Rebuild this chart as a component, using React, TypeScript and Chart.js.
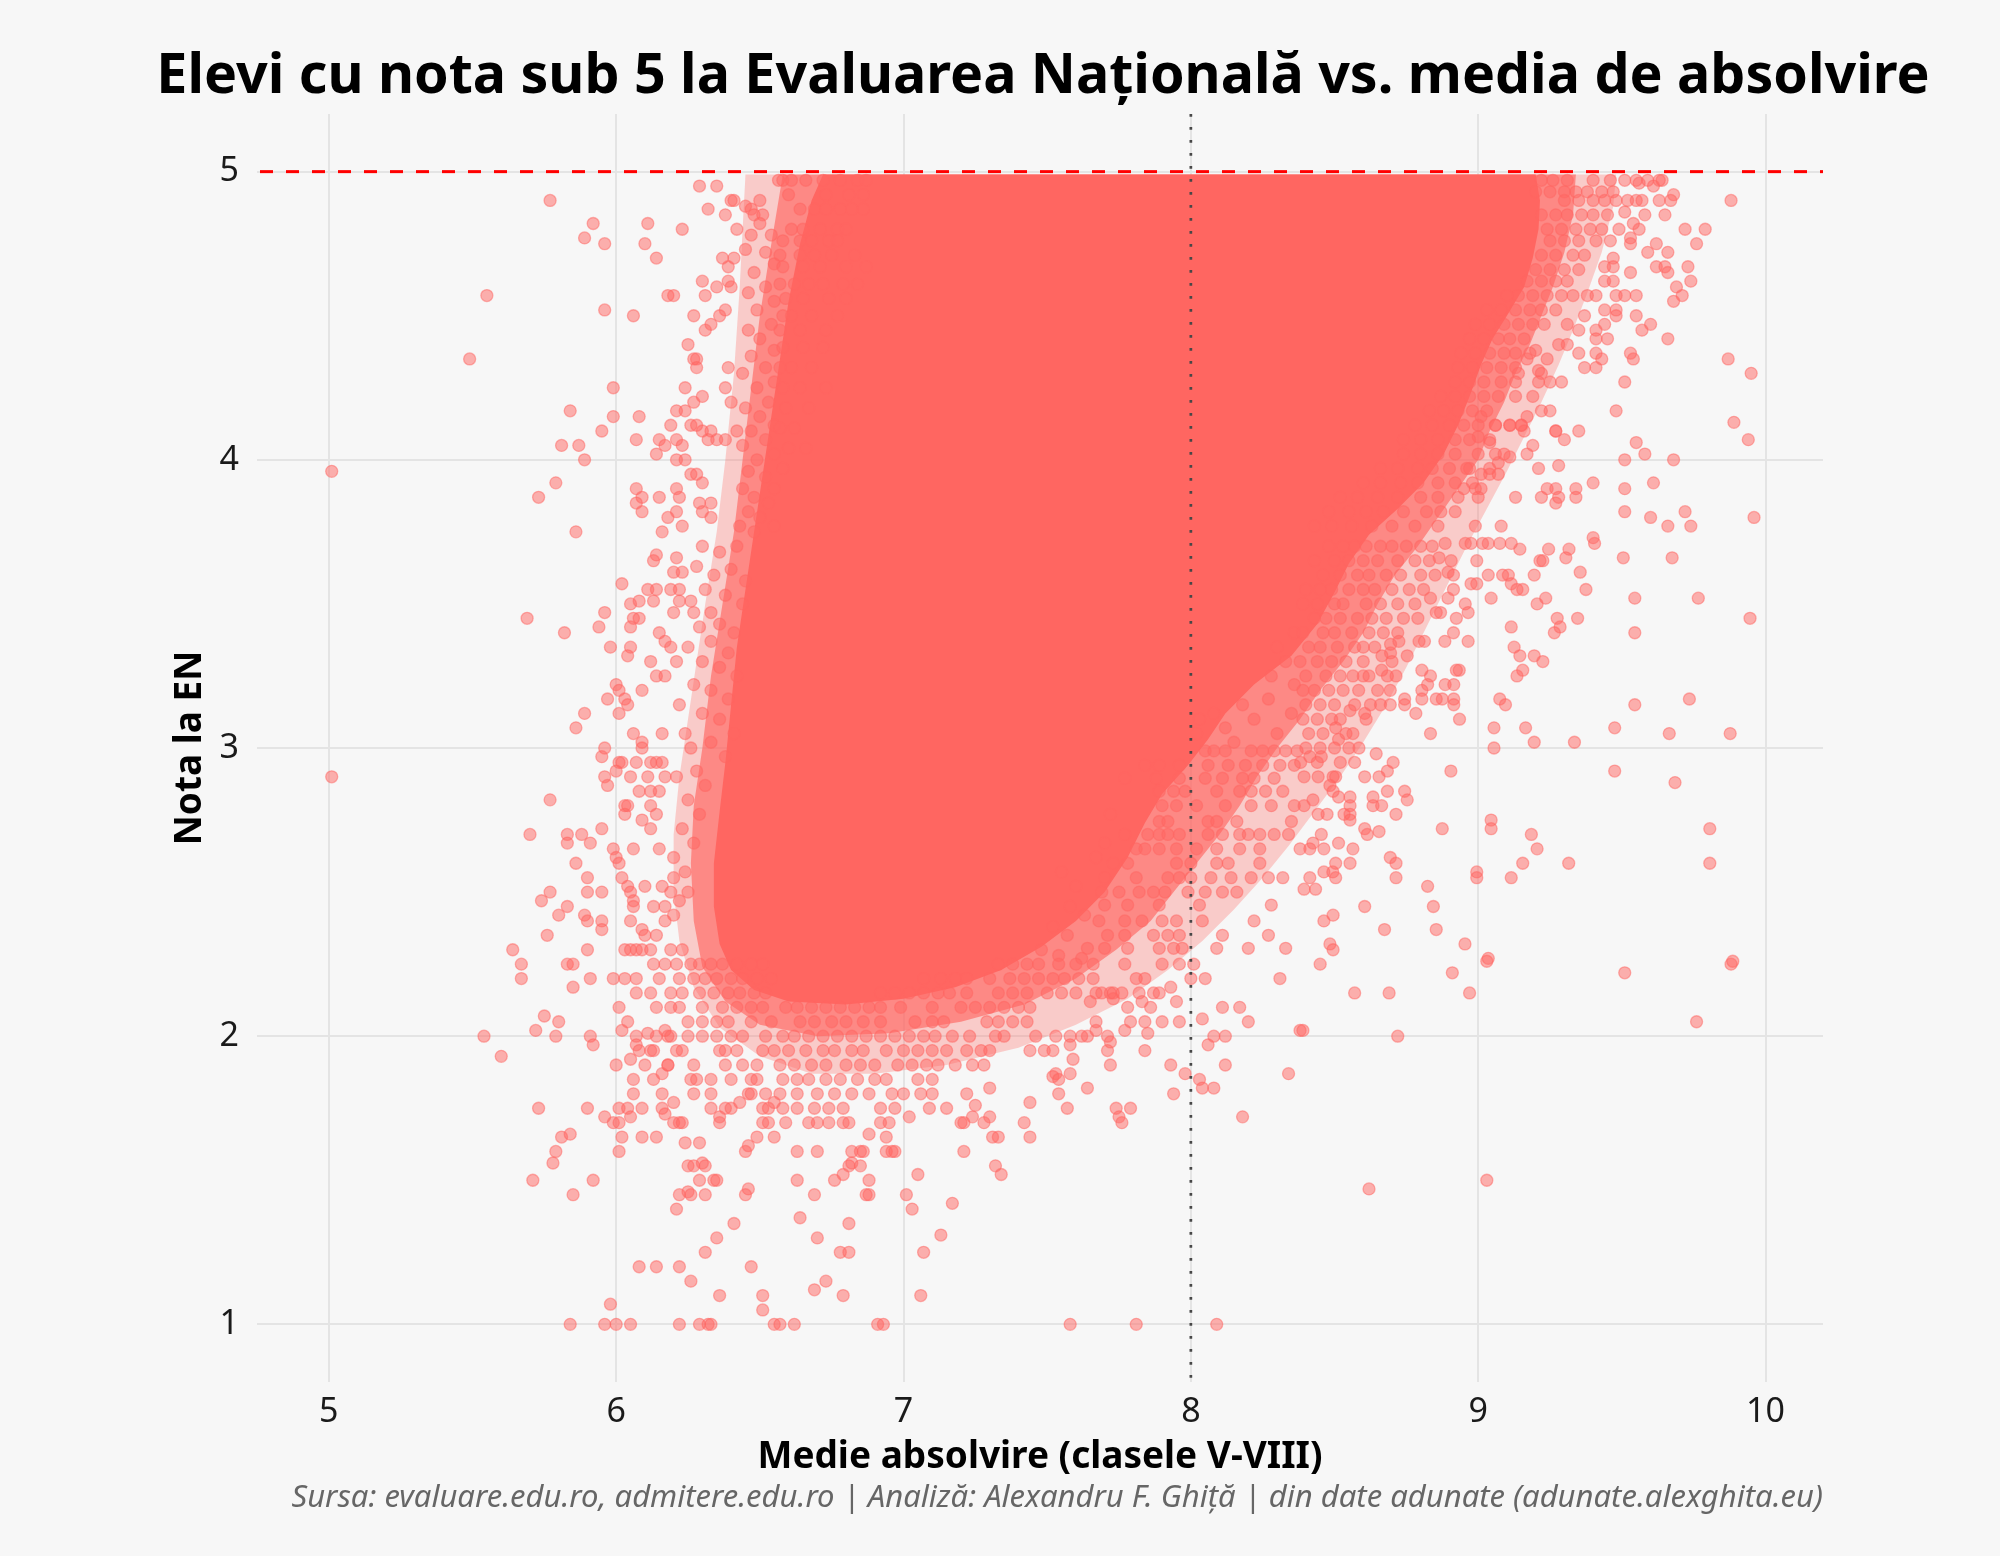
import React, { useEffect, useRef } from "react";
import { Chart, registerables } from "chart.js";

Chart.register(...registerables);

const FONT = '"Noto Sans", "Open Sans", sans-serif';

const TITLE = "Elevi cu nota sub 5 la Evaluarea Națională vs. media de absolvire";
const X_TITLE = "Medie absolvire (clasele V-VIII)";
const Y_TITLE = "Nota la EN";
const CAPTION =
  "Sursa: evaluare.edu.ro, admitere.edu.ro | Analiză: Alexandru F. Ghiță | din date adunate (adunate.alexghita.eu)";

const xTicks = [5, 6, 7, 8, 9, 10];
const yTicks = [1, 2, 3, 4, 5];
const xRange = [4.75, 10.2];
const yRange = [0.8, 5.2];
const thresholdGrade = 5; // dashed red line
const referenceAverage = 8; // dotted vertical line

// Envelope of the region where the points overlap completely (solid core)
const coreOutline: [number, number][] = [
  [6.72, 4.99], [7.5, 4.99], [8.3, 4.99], [9.2, 4.99], [9.215, 4.9], [9.21, 4.8], [9.19, 4.7],
  [9.16, 4.6], [9.1, 4.5], [9.05, 4.42], [9.01, 4.33], [8.97, 4.22], [8.93, 4.12], [8.88, 4.02],
  [8.81, 3.92], [8.72, 3.83], [8.62, 3.74], [8.55, 3.64], [8.5, 3.54], [8.44, 3.43], [8.35, 3.32],
  [8.22, 3.22], [8.12, 3.12], [8.06, 3.03], [7.99, 2.94], [7.9, 2.84], [7.84, 2.74], [7.78, 2.62],
  [7.7, 2.5], [7.6, 2.4], [7.48, 2.31], [7.34, 2.23], [7.18, 2.17], [7.0, 2.13], [6.8, 2.11],
  [6.6, 2.12], [6.48, 2.16], [6.4, 2.23], [6.36, 2.32], [6.34, 2.45], [6.34, 2.6], [6.36, 2.78],
  [6.38, 2.95], [6.4, 3.15], [6.42, 3.35], [6.45, 3.55], [6.48, 3.75], [6.51, 3.95], [6.54, 4.15],
  [6.57, 4.35], [6.6, 4.55], [6.64, 4.75], [6.68, 4.9], [6.72, 4.99],
];

// Envelope of the band where points overlap most of the time
const innerBandOutline: [number, number][] = [
  [6.58, 4.99], [9.34, 4.99], [9.33, 4.85], [9.3, 4.72], [9.26, 4.6], [9.22, 4.5], [9.18, 4.4],
  [9.13, 4.3], [9.09, 4.2], [9.04, 4.1], [9.0, 4.0], [8.93, 3.9], [8.86, 3.8], [8.79, 3.7],
  [8.71, 3.6], [8.65, 3.5], [8.6, 3.4], [8.53, 3.3], [8.45, 3.2], [8.38, 3.1], [8.3, 3.0],
  [8.23, 2.9], [8.17, 2.8], [8.1, 2.7], [8.02, 2.6], [7.94, 2.5], [7.86, 2.4], [7.74, 2.3],
  [7.6, 2.2], [7.42, 2.11], [7.2, 2.05], [6.95, 2.01], [6.7, 2.0], [6.5, 2.04], [6.38, 2.12],
  [6.3, 2.24], [6.27, 2.4], [6.26, 2.6], [6.27, 2.8], [6.3, 3.0], [6.33, 3.25], [6.37, 3.5],
  [6.41, 3.75], [6.44, 4.0], [6.47, 4.25], [6.5, 4.5], [6.54, 4.75], [6.58, 4.99],
];

// Envelope of the band where points still touch each other
const outerBandOutline: [number, number][] = [
  [6.45, 4.99], [9.48, 4.99], [9.47, 4.88], [9.43, 4.72], [9.38, 4.58], [9.33, 4.45], [9.28, 4.33],
  [9.22, 4.2], [9.16, 4.08], [9.1, 3.96], [9.03, 3.83], [8.96, 3.7], [8.89, 3.56], [8.82, 3.42],
  [8.75, 3.28], [8.68, 3.15], [8.6, 3.02], [8.52, 2.9], [8.43, 2.78], [8.34, 2.66], [8.25, 2.55],
  [8.15, 2.44], [8.04, 2.33], [7.92, 2.23], [7.78, 2.13], [7.6, 2.04], [7.4, 1.96], [7.15, 1.9],
  [6.9, 1.87], [6.68, 1.87], [6.5, 1.93], [6.36, 2.03], [6.27, 2.17], [6.22, 2.33], [6.2, 2.5],
  [6.2, 2.7], [6.22, 2.9], [6.25, 3.1], [6.28, 3.3], [6.31, 3.5], [6.35, 3.75], [6.38, 4.0],
  [6.41, 4.3], [6.43, 4.6], [6.44, 4.8], [6.45, 4.99],
];

// Individual students, upper-left side
const pointsUpperLeft: [number, number][] = [
  [5.77, 4.9], [5.92, 4.82], [5.89, 4.77], [5.96, 4.75], [6.11, 4.82], [6.1, 4.75], [6.14, 4.7],
  [6.23, 4.8], [6.29, 4.95], [6.35, 4.95], [6.4, 4.9], [6.41, 4.9], [6.32, 4.87], [6.38, 4.85],
  [6.42, 4.8], [6.47, 4.87], [6.5, 4.9], [6.48, 4.85], [6.51, 4.85], [6.565, 4.97],
  [5.55, 4.57], [5.49, 4.35], [5.96, 4.52], [6.06, 4.5], [6.18, 4.57], [6.2, 4.57], [6.3, 4.62],
  [6.31, 4.57], [6.35, 4.6], [6.39, 4.62], [6.4, 4.6], [6.37, 4.7], [6.41, 4.7], [6.39, 4.67],
  [6.27, 4.5], [6.33, 4.47], [6.31, 4.45], [6.36, 4.5], [6.38, 4.52], [6.25, 4.4], [6.27, 4.35],
  [6.28, 4.35], [6.28, 4.32], [5.99, 4.25], [5.84, 4.17], [5.99, 4.15], [6.08, 4.15], [5.95, 4.1],
  [5.81, 4.05], [5.87, 4.05], [5.89, 4.0], [6.07, 4.07], [6.19, 4.12], [6.15, 4.07], [6.17, 4.05],
  [6.14, 4.02], [6.23, 4.05], [6.21, 4.07], [6.21, 4.0], [6.24, 4.0], [6.24, 4.25], [6.27, 4.2],
  [6.3, 4.22], [6.21, 4.17], [6.24, 4.17], [6.38, 4.25], [6.39, 4.32], [6.4, 4.2], [6.26, 4.12],
  [6.28, 4.12], [6.3, 4.1], [6.33, 4.1], [6.32, 4.07], [6.35, 4.07], [6.38, 4.07], [6.42, 4.1],
  [5.01, 3.96], [5.79, 3.92], [5.73, 3.87], [6.07, 3.9], [6.09, 3.87], [6.07, 3.85], [6.09, 3.82],
  [6.15, 3.87], [5.86, 3.75], [6.21, 3.9], [6.22, 3.87], [6.21, 3.82], [6.18, 3.8], [6.23, 3.77],
  [6.16, 3.75], [6.26, 3.95], [6.28, 3.95], [6.3, 3.92], [6.29, 3.85], [6.33, 3.85], [6.3, 3.82],
  [6.33, 3.8],
  [6.45, 4.88], [6.5, 4.82], [6.54, 4.78], [6.47, 4.78], [6.52, 4.72], [6.45, 4.73], [6.55, 4.68],
  [6.48, 4.65], [6.52, 4.6], [6.46, 4.58], [6.55, 4.55], [6.49, 4.52], [6.54, 4.47], [6.46, 4.45],
  [6.5, 4.42], [6.55, 4.38], [6.47, 4.36], [6.52, 4.32], [6.44, 4.3], [6.55, 4.27], [6.49, 4.25],
  [6.53, 4.2], [6.45, 4.18], [6.5, 4.15], [6.55, 4.12], [6.47, 4.1], [6.52, 4.07], [6.44, 4.05],
  [6.55, 4.02], [6.49, 4.0], [6.46, 3.96], [6.52, 3.94], [6.55, 3.9], [6.44, 3.9], [6.48, 3.87],
  [6.53, 3.85], [6.46, 3.82], [6.5, 3.8], [6.55, 3.77], [6.43, 3.77], [6.48, 3.75],
];

// Individual students, middle-left side
const pointsMiddleLeft: [number, number][] = [
  [6.14, 3.67], [6.13, 3.65], [6.21, 3.66], [6.2, 3.61], [6.23, 3.61], [6.02, 3.57], [6.11, 3.55],
  [6.14, 3.55], [6.13, 3.51], [6.19, 3.55], [6.22, 3.55], [6.22, 3.51], [6.26, 3.51], [5.69, 3.45],
  [5.82, 3.4], [5.96, 3.47], [5.94, 3.42], [6.05, 3.5], [6.08, 3.51], [6.06, 3.45], [6.08, 3.45],
  [6.05, 3.42], [5.98, 3.35], [6.05, 3.35], [6.04, 3.32], [6.12, 3.3], [6.14, 3.25], [6.17, 3.25],
  [6.15, 3.4], [6.17, 3.37], [6.19, 3.35], [6.21, 3.3], [6.2, 3.47], [6.27, 3.47], [6.33, 3.47],
  [6.0, 3.22], [6.01, 3.2], [6.03, 3.17], [6.04, 3.15], [6.01, 3.12], [5.97, 3.17], [6.09, 3.2],
  [5.89, 3.12], [5.86, 3.07], [6.06, 3.05], [6.09, 3.02], [6.09, 3.0], [6.16, 3.05], [6.24, 3.05],
  [5.96, 3.0], [5.95, 2.97], [6.01, 2.95], [6.02, 2.95], [6.07, 2.95], [6.12, 2.95], [6.14, 2.95],
  [6.16, 2.95], [5.96, 2.9], [6.0, 2.92], [5.97, 2.87], [6.05, 2.9], [6.11, 2.9], [6.17, 2.9],
  [6.21, 2.9], [5.01, 2.9], [5.77, 2.82], [6.08, 2.85], [6.12, 2.85], [6.15, 2.85], [6.03, 2.8],
  [6.04, 2.8], [6.03, 2.77], [6.12, 2.8], [6.09, 2.75], [6.12, 2.72], [6.14, 2.77], [5.7, 2.7],
  [5.83, 2.7], [5.83, 2.67], [5.88, 2.7], [5.91, 2.67], [5.95, 2.72], [5.86, 2.6], [5.99, 2.65],
  [6.0, 2.62], [6.01, 2.6], [6.06, 2.65], [6.15, 2.65], [5.9, 2.55], [5.9, 2.5], [5.95, 2.5],
  [5.77, 2.5], [5.74, 2.47], [5.83, 2.45], [5.8, 2.42], [5.89, 2.42], [5.9, 2.4], [5.95, 2.4],
  [5.95, 2.37], [5.76, 2.35], [6.02, 2.55], [6.04, 2.52], [6.05, 2.5], [6.06, 2.47], [6.06, 2.45],
  [6.05, 2.4], [6.09, 2.37], [6.1, 2.35], [6.1, 2.52], [6.16, 2.52], [6.13, 2.45], [6.17, 2.45],
  [6.19, 2.5], [6.14, 2.35], [5.64, 2.3], [5.9, 2.3], [6.03, 2.3], [6.05, 2.3], [6.07, 2.3],
  [6.09, 2.3], [6.12, 2.3], [6.19, 2.3], [6.23, 2.3], [6.17, 2.4], [6.2, 2.42],
  [6.3, 3.7], [6.36, 3.68], [6.42, 3.7], [6.28, 3.63], [6.34, 3.6], [6.4, 3.62], [6.45, 3.58],
  [6.31, 3.55], [6.38, 3.53], [6.44, 3.5], [6.29, 3.42], [6.36, 3.43], [6.41, 3.4], [6.33, 3.37],
  [6.39, 3.33], [6.25, 3.35], [6.3, 3.3], [6.36, 3.28], [6.42, 3.25], [6.27, 3.22], [6.33, 3.2],
  [6.39, 3.17], [6.22, 3.15], [6.3, 3.12], [6.36, 3.1], [6.41, 3.05], [6.26, 3.0], [6.33, 3.02],
  [6.38, 2.97], [6.28, 2.92], [6.31, 2.87], [6.25, 2.82], [6.29, 2.77], [6.23, 2.72], [6.27, 2.67],
  [6.2, 2.62], [6.24, 2.57], [6.2, 2.55], [6.25, 2.5], [6.22, 2.47],
];

// Individual students, lower part of the chart
const pointsLower: [number, number][] = [
  [5.67, 2.25], [5.67, 2.2], [5.83, 2.25], [5.85, 2.25], [5.85, 2.17], [5.91, 2.2], [5.75, 2.07],
  [5.8, 2.05], [5.54, 2.0], [5.72, 2.02], [5.79, 2.0], [5.91, 2.0], [5.92, 1.97], [5.6, 1.93],
  [6.01, 2.1], [5.99, 2.2], [6.03, 2.2], [6.07, 2.2], [6.07, 2.15], [6.12, 2.15], [6.04, 2.05],
  [6.02, 2.02], [6.07, 2.0], [6.11, 2.01], [6.14, 2.0], [6.17, 2.02], [6.19, 2.0], [6.0, 1.9],
  [6.05, 1.92], [6.1, 1.9], [6.07, 1.97], [6.08, 1.95], [6.12, 1.95], [6.13, 1.95], [6.06, 1.85],
  [6.06, 1.8], [6.13, 1.85], [6.16, 1.87], [6.16, 1.8], [6.18, 1.9], [5.73, 1.75], [5.9, 1.75],
  [5.96, 1.72], [5.99, 1.7], [6.01, 1.7], [6.01, 1.75], [6.04, 1.75], [6.05, 1.72], [6.09, 1.75],
  [6.16, 1.75], [6.17, 1.73], [6.2, 1.77], [6.2, 1.7], [6.22, 1.7], [6.23, 1.7], [5.81, 1.65],
  [5.84, 1.66], [5.79, 1.6], [5.78, 1.56], [6.02, 1.65], [6.09, 1.65], [6.14, 1.65], [6.01, 1.6],
  [5.71, 1.5], [5.92, 1.5], [5.85, 1.45], [6.24, 1.63], [6.29, 1.63], [6.25, 1.55], [6.27, 1.55],
  [6.3, 1.56], [6.31, 1.55], [6.29, 1.5], [6.34, 1.5], [6.35, 1.5], [6.22, 1.45], [6.25, 1.46],
  [6.26, 1.45], [6.31, 1.45], [6.21, 1.4], [6.46, 1.47], [6.45, 1.45], [6.41, 1.35], [6.35, 1.3],
  [6.31, 1.25], [6.08, 1.2], [6.14, 1.2], [6.22, 1.2], [6.47, 1.2], [6.26, 1.15], [6.36, 1.1],
  [6.51, 1.1], [6.51, 1.05], [5.98, 1.07], [5.84, 1.0], [5.96, 1.0], [6.0, 1.0], [6.05, 1.0],
  [6.22, 1.0], [6.29, 1.0], [6.32, 1.0], [6.33, 1.0], [6.55, 1.0], [6.45, 1.6], [6.46, 1.62],
  [6.49, 1.65], [6.55, 1.65], [6.36, 1.7], [6.36, 1.72], [6.33, 1.75], [6.38, 1.75], [6.4, 1.75],
  [6.43, 1.77], [6.46, 1.8], [6.51, 1.75], [6.53, 1.75], [6.51, 1.7], [6.53, 1.7], [6.55, 1.77],
  [6.57, 1.0], [6.62, 1.0], [6.91, 1.0], [6.93, 1.0], [7.58, 1.0], [7.81, 1.0], [8.09, 1.0],
  [6.69, 1.12], [6.73, 1.15], [6.79, 1.1], [7.06, 1.1], [6.64, 1.37], [6.81, 1.35], [6.7, 1.3],
  [6.78, 1.25], [6.81, 1.25], [7.07, 1.25], [7.13, 1.31], [7.03, 1.4], [7.17, 1.42], [7.01, 1.45],
  [6.69, 1.45], [6.63, 1.5], [6.76, 1.5], [6.79, 1.52], [6.88, 1.5], [6.87, 1.45], [6.88, 1.45],
  [7.05, 1.52], [6.63, 1.6], [6.7, 1.6], [6.81, 1.55], [6.82, 1.56], [6.85, 1.55], [6.82, 1.6],
  [6.85, 1.6], [6.86, 1.6], [6.94, 1.6], [6.96, 1.6], [6.97, 1.6], [6.94, 1.65], [6.88, 1.66],
  [7.21, 1.6], [7.32, 1.55], [7.34, 1.52], [7.31, 1.65], [7.33, 1.65], [7.44, 1.65], [7.42, 1.7],
  [7.44, 1.77], [7.2, 1.7], [7.21, 1.7], [7.28, 1.7], [7.3, 1.72], [7.24, 1.72], [7.25, 1.76],
  [7.22, 1.8], [7.3, 1.82], [7.02, 1.72], [7.09, 1.75], [7.15, 1.75], [7.06, 1.8], [7.1, 1.8],
  [7.57, 1.75], [7.54, 1.8], [7.64, 1.82], [7.58, 1.87], [7.52, 1.86], [7.53, 1.87], [7.54, 1.85],
  [7.74, 1.75], [7.79, 1.75], [7.75, 1.72], [7.76, 1.7], [7.94, 1.8], [7.93, 1.9], [7.98, 1.87],
  [8.03, 1.85], [8.04, 1.82], [8.08, 1.82], [8.18, 1.72], [8.12, 1.9], [8.06, 1.97], [8.08, 2.0],
  [8.12, 2.0], [8.04, 2.06], [8.17, 2.1], [8.2, 2.05], [8.11, 2.1], [8.34, 1.87], [8.31, 2.2],
  [8.38, 2.02], [8.05, 2.2], [8.0, 2.2], [8.01, 2.25], [7.72, 1.9], [7.71, 1.95], [7.72, 1.98],
  [7.84, 1.95], [7.85, 2.01], [7.77, 2.02], [7.79, 2.05], [7.84, 2.05], [7.9, 2.05], [7.96, 2.05],
  [7.95, 2.12], [7.93, 2.17], [7.86, 2.1], [7.83, 2.12], [7.78, 2.1], [7.82, 2.15], [7.87, 2.15],
  [7.89, 2.15], [7.81, 2.2], [7.84, 2.2], [7.77, 2.25], [7.9, 2.25], [7.96, 2.25], [7.59, 1.92],
  [7.58, 1.97], [7.58, 2.0], [7.62, 2.0], [7.64, 2.0], [7.67, 2.02], [7.67, 2.05], [7.65, 2.12],
  [7.69, 2.15], [7.72, 2.15], [7.76, 2.15], [7.73, 2.13], [7.71, 2.0], [7.44, 1.95], [7.49, 1.95],
  [7.52, 1.95], [7.53, 2.0], [7.46, 2.0],
  [8.45, 2.25], [8.91, 2.22], [9.03, 2.26], [8.57, 2.15], [8.69, 2.15], [8.97, 2.15], [8.39, 2.02],
  [8.72, 2.0], [9.51, 2.22], [9.88, 2.25], [9.76, 2.05], [8.62, 1.47], [9.03, 1.5],
];

// Individual students, right side
const pointsRight: [number, number][] = [
  [9.035, 3.71], [9.075, 3.71], [9.115, 3.71], [9.145, 3.69], [9.245, 3.69], [9.316, 3.69],
  [9.405, 3.71], [9.505, 3.66], [9.675, 3.66], [8.995, 3.65], [9.035, 3.6], [9.085, 3.6],
  [9.105, 3.6], [9.195, 3.6], [9.215, 3.65], [9.225, 3.65], [9.305, 3.66], [9.355, 3.61],
  [9.115, 3.57], [9.135, 3.55], [9.155, 3.55], [9.375, 3.55], [9.235, 3.52], [9.205, 3.5],
  [9.045, 3.52], [9.545, 3.52], [9.766, 3.52], [9.946, 3.45], [9.346, 3.45], [9.275, 3.45],
  [9.285, 3.42], [9.265, 3.4], [9.545, 3.4], [9.115, 3.42], [9.125, 3.35], [9.145, 3.32],
  [9.195, 3.32], [9.225, 3.3], [9.155, 3.27], [9.135, 3.25], [9.075, 3.17], [9.095, 3.15],
  [9.545, 3.15], [9.735, 3.17], [9.055, 3.07], [9.165, 3.07], [9.195, 3.02], [9.335, 3.02],
  [9.475, 3.07], [9.665, 3.05], [9.877, 3.05], [9.055, 3.0], [9.475, 2.92], [9.685, 2.88],
  [8.905, 2.92], [9.045, 2.75], [9.045, 2.72], [9.185, 2.7], [9.205, 2.65], [9.806, 2.72],
  [9.806, 2.6], [9.155, 2.6], [9.315, 2.6], [9.115, 2.55], [8.995, 2.57], [8.995, 2.55],
  [8.875, 2.72], [8.824, 2.52], [8.844, 2.45], [8.854, 2.37], [8.954, 2.32], [9.035, 2.27],
  [9.886, 2.26], [8.605, 2.45], [8.495, 2.42], [8.463, 2.4], [8.674, 2.37], [8.484, 2.32],
  [8.495, 2.3], [8.714, 2.55], [8.694, 2.62], [8.714, 2.6], [8.554, 2.6], [8.504, 2.6],
  [8.494, 2.57], [8.504, 2.55], [8.463, 2.57], [8.414, 2.55], [8.434, 2.51], [8.394, 2.51],
  [8.564, 2.65], [8.514, 2.67], [8.463, 2.65], [8.454, 2.7], [8.414, 2.65], [8.425, 2.67],
  [8.605, 2.72], [8.614, 2.7], [8.655, 2.71], [8.714, 2.77], [8.664, 2.8], [8.634, 2.8],
  [8.634, 2.83], [8.554, 2.83], [8.554, 2.8], [8.554, 2.77], [8.554, 2.75], [8.533, 2.77],
  [8.474, 2.77], [8.443, 2.77], [8.425, 2.82], [8.394, 2.8], [8.753, 2.82], [8.744, 2.85],
  [8.684, 2.85], [8.704, 2.95], [8.684, 2.92], [8.655, 2.9], [8.605, 2.9], [8.645, 2.98],
  [8.585, 3.0], [8.443, 2.9], [8.495, 2.9], [8.504, 2.9], [8.484, 2.87], [8.495, 2.85],
  [8.514, 2.83], [8.394, 2.9], [8.382, 2.95], [8.454, 2.97], [8.414, 2.97], [8.834, 3.05],
  [8.935, 3.1], [8.915, 3.17], [8.915, 3.15], [8.875, 3.17], [8.854, 3.17], [8.885, 3.22],
  [8.915, 3.22], [8.804, 3.2], [8.804, 3.17], [8.783, 3.12], [8.744, 3.15], [8.744, 3.17],
  [8.694, 3.15], [8.694, 3.2], [8.625, 3.15], [8.605, 3.12], [8.564, 3.05], [8.514, 3.03],
  [8.504, 3.07], [8.554, 3.13], [8.584, 3.2], [8.934, 3.27], [8.924, 3.27], [8.834, 3.25],
  [8.824, 3.22], [8.804, 3.27], [8.714, 3.25], [8.684, 3.25], [8.664, 3.27], [8.564, 3.25],
  [8.965, 3.37], [8.914, 3.4], [8.884, 3.37], [8.813, 3.37], [8.794, 3.37], [8.753, 3.32],
  [8.695, 3.33], [8.665, 3.32], [8.695, 3.36], [8.724, 3.37], [8.924, 3.45], [8.965, 3.47],
  [8.955, 3.5], [8.895, 3.52], [8.834, 3.52], [8.854, 3.47], [8.869, 3.47], [8.914, 3.55],
  [8.914, 3.6], [8.864, 3.66], [8.906, 3.65], [8.895, 3.61], [8.995, 3.57], [8.975, 3.57],
  [9.015, 3.71], [8.975, 3.71], [8.955, 3.71], [8.885, 3.71],
  [9.88, 4.9], [9.72, 4.8], [9.79, 4.8], [9.76, 4.75], [9.65, 4.85], [9.68, 4.92], [9.67, 4.9],
  [9.63, 4.9], [9.64, 4.97], [9.61, 4.95], [9.58, 4.85], [9.56, 4.8], [9.54, 4.82], [9.53, 4.77],
  [9.53, 4.75], [9.51, 4.86], [9.55, 4.9], [9.56, 4.96], [9.59, 4.72], [9.62, 4.75], [9.66, 4.72],
  [9.62, 4.67], [9.65, 4.67], [9.66, 4.65], [9.73, 4.67], [9.74, 4.62], [9.69, 4.6], [9.71, 4.57],
  [9.68, 4.55], [9.53, 4.65], [9.47, 4.67], [9.44, 4.67], [9.47, 4.62], [9.44, 4.62], [9.47, 4.7],
  [9.55, 4.57], [9.51, 4.57], [9.48, 4.57], [9.55, 4.5], [9.6, 4.47], [9.57, 4.45], [9.66, 4.42],
  [9.44, 4.52], [9.48, 4.5], [9.48, 4.52], [9.44, 4.47], [9.41, 4.45], [9.45, 4.42], [9.41, 4.42],
  [9.41, 4.37], [9.43, 4.35], [9.53, 4.37], [9.54, 4.35], [9.37, 4.32], [9.41, 4.32], [9.35, 4.37],
  [9.37, 4.5], [9.35, 4.45], [9.31, 4.47], [9.28, 4.4], [9.31, 4.4], [9.33, 4.57], [9.38, 4.57],
  [9.41, 4.57], [9.87, 4.35], [9.95, 4.3], [9.51, 4.27], [9.48, 4.17], [9.29, 4.27], [9.89, 4.13],
  [9.94, 4.07], [9.55, 4.06], [9.58, 4.02], [9.51, 4.0], [9.68, 4.0], [9.35, 4.1], [9.3, 4.07],
  [9.27, 4.1], [9.19, 4.05], [9.17, 4.02], [9.21, 3.97], [9.28, 3.98], [9.4, 3.92], [9.51, 3.9],
  [9.61, 3.92], [9.51, 3.82], [9.6, 3.8], [9.72, 3.82], [9.66, 3.77], [9.74, 3.77], [9.96, 3.8],
  [9.24, 3.9], [9.27, 3.9], [9.34, 3.9], [9.34, 3.87], [9.28, 3.87], [9.27, 3.85], [9.22, 3.87],
  [9.13, 3.87], [9.22, 4.17], [9.25, 4.17], [9.19, 4.22], [9.17, 4.15], [9.15, 4.12], [9.16, 4.1],
  [9.11, 4.12], [9.27, 4.1], [9.21, 4.27], [9.25, 4.27], [9.22, 4.3], [9.14, 4.3], [9.21, 4.31],
  [9.17, 4.35], [9.2, 4.38], [9.24, 4.35], [8.99, 3.77], [9.08, 3.77], [8.92, 3.82], [9.01, 3.9],
  [8.95, 3.9], [8.99, 3.9], [8.97, 3.97], [9.01, 3.95], [9.04, 3.95], [9.07, 3.95], [9.06, 4.02],
  [9.11, 4.01], [9.07, 3.99], [9.01, 4.15], [9.06, 4.12], [9.11, 4.12], [9.15, 4.12], [9.0, 4.08],
  [9.04, 4.06], [9.4, 3.73],
  [7.55, 2.57], [7.6, 2.52], [7.58, 2.45], [7.63, 2.42], [7.52, 2.38], [7.57, 2.35], [7.48, 2.3],
  [7.54, 2.28], [7.62, 2.27], [7.67, 2.62], [7.7, 2.67], [7.72, 2.77], [8.03, 3.1], [8.08, 3.12],
  [8.12, 3.07], [8.18, 3.15], [8.22, 3.1], [8.27, 3.17], [8.3, 3.05], [8.35, 3.12], [8.15, 3.02],
  [8.02, 3.05], [8.28, 3.25], [8.33, 3.3], [8.36, 3.22], [8.3, 3.35], [8.36, 3.4],
];

// Rows of closely packed students next to the solid core: [grade, averages read along that row]
const packedRowsLeft: [number, number[]][] = [
  [4.97, [6.58, 6.61, 6.66, 6.72, 6.78, 6.84, 6.87]],
  [4.92, [6.6, 6.73, 6.81, 6.86]],
  [4.87, [6.64, 6.69, 6.73, 6.78, 6.82, 6.86]],
  [4.8, [6.61, 6.65, 6.71, 6.77, 6.8]],
  [4.76, [6.58, 6.64, 6.68, 6.74, 6.77]],
  [4.71, [6.57, 6.64, 6.69, 6.75, 6.83]],
  [4.67, [6.58, 6.65, 6.71, 6.8, 6.87]],
  [4.61, [6.57, 6.62, 6.67, 6.72, 6.79, 6.84]],
  [4.56, [6.59, 6.65, 6.74, 6.8]],
  [4.5, [6.58, 6.61, 6.68, 6.77]],
  [4.45, [6.57, 6.64, 6.73]],
  [4.39, [6.58, 6.65, 6.72]],
  [4.32, [6.57, 6.61, 6.68]],
  [4.25, [6.58, 6.64, 6.73]],
  [4.18, [6.59, 6.67]],
  [4.11, [6.57, 6.62]],
  [4.04, [6.6, 6.66]],
  [3.97, [6.58]],
];

const packedRowsBottom: [number, number[]][] = [
  [2.25, [6.13, 6.17, 6.21, 6.26, 6.29, 6.33, 6.37, 6.42, 6.47, 6.51, 7.33, 7.38, 7.43, 7.47, 7.54, 7.6, 7.66]],
  [2.2, [6.15, 6.22, 6.27, 6.31, 6.35, 6.4, 6.44, 6.49, 6.54, 7.07, 7.13, 7.18, 7.22, 7.3, 7.37, 7.42, 7.47, 7.52, 7.56, 7.61, 7.66]],
  [2.15, [6.19, 6.23, 6.29, 6.34, 6.39, 6.43, 6.48, 6.52, 6.92, 6.97, 7.02, 7.07, 7.12, 7.16, 7.22, 7.33, 7.38, 7.43, 7.5, 7.55, 7.6, 7.67, 7.73]],
  [2.1, [6.14, 6.19, 6.22, 6.3, 6.37, 6.42, 6.47, 6.51, 6.59, 6.63, 6.68, 6.73, 6.78, 6.83, 6.88, 6.92, 6.99, 7.1, 7.2, 7.25, 7.3, 7.35, 7.4, 7.44]],
  [2.05, [6.25, 6.3, 6.35, 6.39, 6.47, 6.54, 6.64, 6.69, 6.75, 6.8, 6.86, 6.92, 7.04, 7.1, 7.14, 7.29, 7.33, 7.38, 7.43]],
  [2.0, [6.18, 6.25, 6.3, 6.35, 6.4, 6.44, 6.52, 6.58, 6.62, 6.67, 6.72, 6.77, 6.82, 6.87, 6.92, 6.97, 7.02, 7.07, 7.11, 7.17, 7.23, 7.32, 7.35]],
  [1.95, [6.21, 6.23, 6.36, 6.38, 6.42, 6.51, 6.55, 6.6, 6.66, 6.72, 6.76, 6.82, 6.86, 6.94, 7.0, 7.05, 7.1, 7.15, 7.22, 7.27, 7.3]],
  [1.9, [6.18, 6.27, 6.38, 6.44, 6.49, 6.57, 6.62, 6.68, 6.73, 6.8, 6.85, 6.9, 6.98, 7.03, 7.08, 7.12, 7.18, 7.24, 7.28]],
  [1.85, [6.26, 6.28, 6.33, 6.4, 6.47, 6.49, 6.58, 6.63, 6.67, 6.73, 6.78, 6.84, 6.9, 6.94, 7.05, 7.1]],
  [1.8, [6.27, 6.33, 6.47, 6.52, 6.57, 6.63, 6.7, 6.76, 6.82, 6.88, 6.96, 7.0]],
  [1.75, [6.58, 6.63, 6.69, 6.74, 6.79, 6.92, 6.97]],
  [1.7, [6.59, 6.67, 6.7, 6.74, 6.79, 6.81, 6.92, 6.95]],
];

const packedRowsRight: [number, number[]][] = [
  [4.97, [9.22, 9.26, 9.31, 9.4, 9.46, 9.51, 9.55, 9.59, 9.63]],
  [4.93, [9.2, 9.25, 9.3, 9.34, 9.38, 9.43, 9.47]],
  [4.9, [9.3, 9.35, 9.4, 9.44, 9.48, 9.52, 9.57]],
  [4.85, [9.22, 9.27, 9.31, 9.36, 9.4, 9.45]],
  [4.8, [9.24, 9.29, 9.34, 9.39, 9.43, 9.49]],
  [4.76, [9.25, 9.3, 9.35, 9.41, 9.46]],
  [4.71, [9.22, 9.27, 9.33, 9.37]],
  [4.66, [9.2, 9.25, 9.3, 9.35]],
  [4.62, [9.17, 9.22, 9.27, 9.31]],
  [4.57, [9.1, 9.14, 9.19, 9.24, 9.29]],
  [4.52, [9.03, 9.08, 9.13, 9.18, 9.22, 9.27]],
  [4.47, [8.99, 9.04, 9.09, 9.14, 9.19, 9.23]],
  [4.42, [8.97, 9.02, 9.07, 9.11, 9.16]],
  [4.37, [8.94, 8.99, 9.04, 9.09, 9.13, 9.18]],
  [4.32, [8.93, 8.98, 9.03, 9.08, 9.13]],
  [4.27, [8.92, 8.97, 9.02, 9.08, 9.13]],
  [4.22, [8.87, 8.92, 8.97, 9.02, 9.07, 9.13]],
  [4.17, [8.83, 8.88, 8.93, 8.98, 9.03]],
  [4.12, [8.78, 8.84, 8.9, 8.95, 9.0, 9.06]],
  [4.07, [8.74, 8.8, 8.86, 8.92, 8.97, 9.04]],
  [4.02, [8.74, 8.8, 8.86, 8.92, 9.0, 9.09]],
  [3.97, [8.66, 8.72, 8.79, 8.84, 8.9, 8.96, 9.04]],
  [3.92, [8.6, 8.66, 8.73, 8.79, 8.86, 8.92, 8.98]],
  [3.87, [8.52, 8.58, 8.65, 8.72, 8.8, 8.86, 8.93, 9.0]],
  [3.82, [8.48, 8.55, 8.61, 8.67, 8.74, 8.82, 8.87]],
  [3.77, [8.43, 8.49, 8.56, 8.63, 8.7, 8.78, 8.86]],
  [3.7, [8.48, 8.53, 8.57, 8.61, 8.66, 8.7, 8.75, 8.8, 8.84]],
  [3.65, [8.43, 8.5, 8.55, 8.6, 8.65, 8.72, 8.78, 8.83]],
  [3.6, [8.46, 8.52, 8.58, 8.62, 8.68, 8.73, 8.8, 8.85]],
  [3.55, [8.4, 8.45, 8.49, 8.55, 8.6, 8.64, 8.7, 8.76, 8.81]],
  [3.5, [8.39, 8.44, 8.5, 8.53, 8.61, 8.66, 8.72, 8.78]],
  [3.45, [8.43, 8.47, 8.52, 8.58, 8.63, 8.68, 8.74, 8.79]],
  [3.4, [8.39, 8.46, 8.5, 8.56, 8.62, 8.67, 8.72]],
  [3.35, [8.41, 8.45, 8.51, 8.57, 8.6, 8.64]],
  [3.3, [8.38, 8.44, 8.49, 8.54, 8.6, 8.7]],
  [3.25, [8.4, 8.47, 8.52, 8.6, 8.62]],
  [3.2, [8.39, 8.43, 8.48, 8.53, 8.65]],
  [3.15, [8.4, 8.45, 8.5, 8.57, 8.66]],
  [3.1, [8.39, 8.44, 8.49, 8.52, 8.61]],
  [3.05, [8.41, 8.46, 8.54]],
  [3.0, [8.4, 8.45, 8.5, 8.55]],
  [2.99, [8.05, 8.08, 8.12, 8.21, 8.25, 8.29, 8.33, 8.37]],
  [2.95, [8.44, 8.52, 8.57]],
  [2.94, [7.84, 7.89, 7.96, 8.06, 8.13, 8.19, 8.25, 8.31, 8.36]],
  [2.895, [7.77, 7.88, 7.96, 8.05, 8.11, 8.18, 8.22, 8.29]],
  [2.85, [7.89, 7.94, 7.98, 8.09, 8.17, 8.21, 8.26, 8.32]],
  [2.8, [7.9, 7.95, 8.02, 8.12, 8.21, 8.28, 8.36]],
  [2.745, [7.89, 7.92, 8.06, 8.09, 8.16, 8.35]],
  [2.7, [7.77, 7.85, 7.89, 7.92, 7.96, 8.06, 8.11, 8.17, 8.2, 8.24, 8.29, 8.34]],
  [2.65, [7.81, 7.84, 7.89, 7.95, 8.02, 8.09, 8.17, 8.24, 8.38]],
  [2.6, [7.73, 7.78, 7.95, 8.0, 8.09, 8.13, 8.24]],
  [2.55, [7.7, 7.81, 7.92, 7.96, 8.0, 8.07, 8.14, 8.21, 8.27, 8.32]],
  [2.5, [7.69, 7.75, 7.82, 7.87, 7.91, 7.99, 8.05, 8.11, 8.16]],
  [2.455, [7.7, 7.78, 7.89, 8.03, 8.28]],
  [2.4, [7.68, 7.77, 7.83, 7.9, 7.95, 8.04, 8.22]],
  [2.35, [7.71, 7.77, 7.87, 7.92, 7.96, 8.11, 8.27]],
  [2.305, [7.64, 7.7, 7.78, 7.89, 7.94, 7.97, 8.09, 8.2, 8.33]],
];

const CORE_COLOR = "rgb(255, 102, 97)";
const INNER_BAND_COLOR = "rgba(255, 102, 97, 0.65)";
const OUTER_BAND_COLOR = "rgba(255, 102, 97, 0.3)";
const DOT_COLOR = "rgba(255, 102, 97, 0.5)";
const BG = "#f7f7f7";
const TITLE_WIDTH = 1774;
const TITLE_BASELINE = 93;

const toXY = (pairs: [number, number][]) => pairs.map(([x, y]) => ({ x, y }));
const fromRows = (rows: [number, number[]][]) => rows.flatMap(([y, xs]) => xs.map((x) => ({ x, y })));

const refLinesPlugin = {
  id: "refLines",
  afterDatasetsDraw(chart: any) {
    const { ctx, chartArea, scales } = chart;
    const { left, right, top, bottom } = chartArea;
    ctx.save();
    const px = scales.x.getPixelForValue(referenceAverage);
    ctx.strokeStyle = "#474747";
    ctx.lineWidth = 2.7;
    ctx.setLineDash([2.7, 10.3]);
    ctx.beginPath();
    ctx.moveTo(px, top);
    ctx.lineTo(px, bottom);
    ctx.stroke();
    const py = scales.y.getPixelForValue(thresholdGrade);
    ctx.strokeStyle = "#ff0000";
    ctx.lineWidth = 3;
    ctx.setLineDash([13, 13]);
    ctx.lineDashOffset = -3;
    ctx.beginPath();
    ctx.moveTo(left, py);
    ctx.lineTo(right, py);
    ctx.stroke();
    ctx.restore();
  },
};

const titlePlugin = {
  id: "titleText",
  afterDraw(chart: any) {
    const { ctx, chartArea } = chart;
    ctx.save();
    ctx.font = `bold 100px ${FONT}`;
    const w100 = ctx.measureText(TITLE).width;
    const size = Math.max(48, Math.min(64, (100 * TITLE_WIDTH) / w100));
    ctx.font = `bold ${size}px ${FONT}`;
    ctx.fillStyle = "#000";
    ctx.textAlign = "center";
    ctx.textBaseline = "alphabetic";
    ctx.fillText(TITLE, (chartArea.left + chartArea.right) / 2 + 3, TITLE_BASELINE);
    ctx.restore();
  },
};

const bgPlugin = {
  id: "bg",
  beforeDraw(chart: any) {
    const { ctx, width, height } = chart;
    ctx.save();
    ctx.fillStyle = BG;
    ctx.fillRect(0, 0, width, height);
    ctx.restore();
  },
};

export default function App() {
  const canvasRef = useRef<HTMLCanvasElement | null>(null);

  useEffect(() => {
    document.body.style.margin = "0";
    document.body.style.background = BG;
    const canvas = canvasRef.current;
    if (!canvas) return;

    const dots = [
      ...toXY(pointsUpperLeft),
      ...toXY(pointsMiddleLeft),
      ...toXY(pointsLower),
      ...toXY(pointsRight),
      ...fromRows(packedRowsLeft),
      ...fromRows(packedRowsBottom),
      ...fromRows(packedRowsRight),
    ];

    const area = (label: string, outline: [number, number][], color: string, order: number) =>
      ({
        label,
        data: toXY(outline),
        showLine: true,
        fill: "shape",
        backgroundColor: color,
        borderColor: "rgba(0,0,0,0)",
        borderWidth: 0,
        pointRadius: 0,
        tension: 0,
        order,
      } as any);

    const chart = new Chart(canvas, {
      type: "scatter",
      data: {
        datasets: [
          area("outer band", outerBandOutline, OUTER_BAND_COLOR, 4),
          area("inner band", innerBandOutline, INNER_BAND_COLOR, 3),
          area("core", coreOutline, CORE_COLOR, 2),
          {
            label: "elevi",
            data: dots,
            backgroundColor: DOT_COLOR,
            borderColor: DOT_COLOR,
            borderWidth: 1.3,
            pointRadius: 6,
            order: 1,
          },
        ],
      },
      options: {
        animation: false,
        responsive: false,
        devicePixelRatio: 1,
        events: [],
        layout: { padding: { left: 0, right: 177, top: 114, bottom: 39.4 } },
        plugins: {
          legend: { display: false },
          tooltip: { enabled: false },
          title: { display: false },
          subtitle: {
            display: true,
            text: CAPTION,
            position: "bottom",
            align: "end",
            fullSize: false,
            color: "#666666",
            font: { family: FONT, size: 31, style: "italic", weight: "normal" },
            padding: { top: 0, bottom: 0 },
          },
        },
        scales: {
          x: {
            type: "linear",
            min: xRange[0],
            max: xRange[1],
            afterBuildTicks: (s: any) => {
              s.ticks = xTicks.map((v) => ({ value: v }));
            },
            afterFit: (s: any) => {
              s.height = 97.4;
            },
            grid: { color: "#e4e4e4", lineWidth: 2, drawTicks: false },
            border: { display: false },
            ticks: { padding: 9.6, color: "#1a1a1a", font: { family: FONT, size: 34 } },
            title: {
              display: true,
              text: X_TITLE,
              color: "#000",
              font: { family: FONT, size: 37, weight: "bold" },
              padding: { top: 0, bottom: 0 },
            },
          },
          y: {
            type: "linear",
            min: yRange[0],
            max: yRange[1],
            afterBuildTicks: (s: any) => {
              s.ticks = yTicks.map((v) => ({ value: v }));
            },
            afterFit: (s: any) => {
              s.width = 257;
            },
            grid: { color: "#e4e4e4", lineWidth: 2, drawTicks: false },
            border: { display: false },
            ticks: { padding: 18, color: "#1a1a1a", font: { family: FONT, size: 34 } },
            title: {
              display: true,
              text: Y_TITLE,
              color: "#000",
              font: { family: FONT, size: 37, weight: "bold" },
              padding: { top: 168, bottom: 0 },
            },
          },
        },
      },
      plugins: [bgPlugin, refLinesPlugin, titlePlugin],
    });

    return () => chart.destroy();
  }, []);

  return (
    <div style={{ width: 2000, height: 1556, background: BG }}>
      <canvas ref={canvasRef} width={2000} height={1556} style={{ display: "block" }} />
    </div>
  );
}
